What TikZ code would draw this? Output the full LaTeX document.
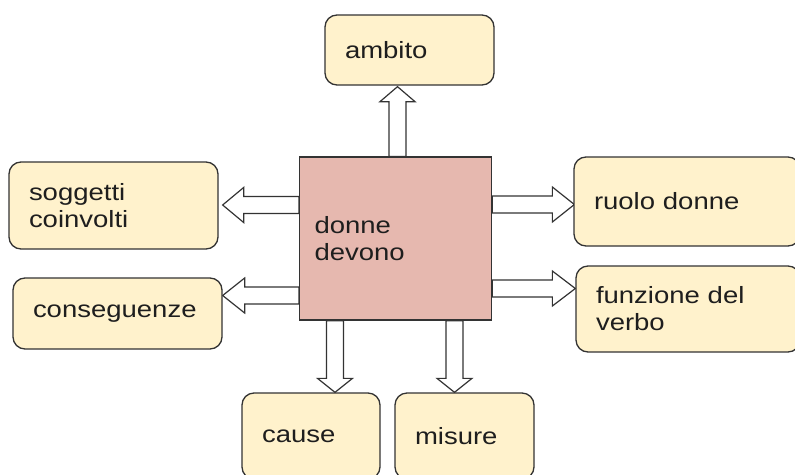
\documentclass[tikz,border=0pt]{standalone}
\usepackage{fontspec}
\setmainfont{Liberation Sans}[FakeStretch=1.17]
\usetikzlibrary{calc}
\definecolor{boxfill}{HTML}{FFF2CC}
\definecolor{corefill}{HTML}{E6B8AF}
\definecolor{edge}{HTML}{333333}
\definecolor{ink}{HTML}{1E1E1E}
\pgfdeclarelayer{bg}
\pgfsetlayers{bg,main}
% hollow block arrow from #1 to the tip #2, head length #3
\newcommand{\blockarrow}[3]{%
  \path coordinate (ba-s) at (#1) coordinate (ba-t) at (#2)
        coordinate (ba-h) at ($(ba-t)!#3!(ba-s)$);
  \draw[hollow] ($(ba-s)!8.5pt!-90:(ba-t)$) -- ($(ba-h)!8.5pt!90:(ba-s)$)
     -- ($(ba-h)!17.5pt!90:(ba-s)$) -- (ba-t) -- ($(ba-h)!17.5pt!-90:(ba-s)$)
     -- ($(ba-h)!8.5pt!-90:(ba-s)$) -- ($(ba-s)!8.5pt!90:(ba-t)$) -- cycle;}
\begin{document}
\begin{tikzpicture}[x=1pt,y=-1pt,
  topic/.style={draw=edge, line width=1.3pt, fill=boxfill, rounded corners=12pt,
    align=left, inner xsep=20pt, inner ysep=0pt, text=ink,
    font=\fontsize{23.5}{27}\selectfont},
  core/.style={draw=edge, line width=1.3pt, fill=corefill, align=left,
    inner xsep=15pt, inner ysep=0pt, text=ink, text width=162pt,
    minimum height=163pt, font=\fontsize{23.5}{27}\selectfont},
  hollow/.style={draw=edge, line width=1.2pt, fill=white, line join=miter}]
\useasboundingbox (0,0) rectangle (795,474);
\clip (0,0) rectangle (795,474);

\node[core] (c) at (395.5,238.5) {donne\\devono};
\node[topic, text width=129pt, minimum height=70pt] (amb) at (409.5,50) {ambito};
\node[topic, text width=169pt, minimum height=87pt] (sog) at (113.5,205.5) {soggetti\\coinvolti};
\node[topic, text width=169pt, minimum height=71pt] (con) at (117.5,313.5) {conseguenze};
\node[topic, text width=186pt, minimum height=89pt] (ruo) at (687,201.5) {ruolo donne};
\node[topic, text width=184pt, minimum height=86pt] (fun) at (688,309) {funzione del\\verbo};
\node[topic, text width=98pt, minimum height=86pt] (cau) at (311,436) {cause};
\node[topic, text width=99pt, minimum height=86pt] (mis) at (464.5,436) {misure};

\begin{pgfonlayer}{bg}
  % upward to ambito
  \coordinate (a0) at ($(c.north)+(2,0)$);
  \blockarrow{a0}{$(a0 |- amb.south)+(0,1)$}{15pt}
  % leftward arrows
  \coordinate (l1) at ($(c.west)+(0,-33.5)$);
  \blockarrow{l1}{$(l1 -| sog.east)+(4,0)$}{21pt}
  \coordinate (l2) at ($(c.west)+(0,57)$);
  \blockarrow{l2}{$(l2 -| con.east)$}{22pt}
  % rightward arrows
  \coordinate (r1) at ($(c.east)+(0,-34)$);
  \blockarrow{r1}{$(r1 -| ruo.west)+(1,0)$}{22pt}
  \coordinate (r2) at ($(c.east)+(0,50)$);
  \blockarrow{r2}{$(r2 -| fun.west)$}{23pt}
  % downward arrows
  \coordinate (d1) at ($(c.south)+(-60.5,0)$);
  \blockarrow{d1}{$(d1 |- cau.north)$}{14pt}
  \coordinate (d2) at ($(c.south)+(59,0)$);
  \blockarrow{d2}{$(d2 |- mis.north)$}{14pt}
\end{pgfonlayer}
\end{tikzpicture}
\end{document}
